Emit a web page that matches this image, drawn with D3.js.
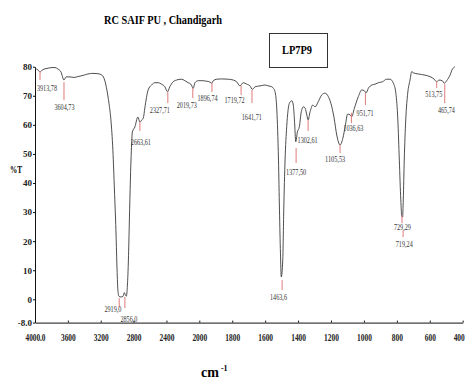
<!DOCTYPE html>
<html>
<head>
<meta charset="utf-8">
<script src="https://cdn.jsdelivr.net/npm/d3@7/dist/d3.min.js"></script>
<style>
  body { margin: 0; background: #fff; }
  svg { display: block; }
</style>
</head>
<body>
<svg id="ir-chart" width="468" height="381"></svg>
<script>
// spectrum (wavenumber cm-1, %T)
var waveNumbers = [4000, 3964, 3939, 3903, 3854, 3793, 3757, 3720, 3684, 3647,
  3623, 3574, 3526, 3477, 3416, 3356, 3295, 3234, 3185, 3149,
  3125, 3100, 3076, 3052, 3033, 3015, 3003, 2991, 2979, 2954,
  2930, 2912, 2900, 2888, 2875, 2863, 2851, 2839, 2827, 2815,
  2784, 2748, 2723, 2699, 2681, 2663, 2623, 2581, 2541, 2501,
  2460, 2419, 2387, 2359, 2319, 2278, 2217, 2176, 2136, 2103,
  2073, 2053, 2012, 1985, 1955, 1935, 1925, 1915, 1894, 1864,
  1824, 1793, 1773, 1753, 1733, 1712, 1692, 1678, 1661, 1631,
  1601, 1581, 1560, 1550, 1540, 1529, 1519, 1513, 1507, 1502,
  1493, 1487, 1479, 1469, 1453, 1438, 1429, 1422, 1414, 1404,
  1392, 1382, 1368, 1357, 1347, 1339, 1327, 1311, 1297, 1277,
  1256, 1236, 1216, 1195, 1181, 1165, 1145, 1128, 1114, 1099,
  1084, 1074, 1058, 1034, 1013, 997, 987, 973, 952, 932,
  912, 888, 861, 841, 821, 806, 794, 785, 776, 770,
  765, 761, 755, 746, 734, 720, 710, 700, 670, 629,
  599, 573, 558, 544, 524, 512, 497, 477, 463, 447]

var transmittance = [79.4, 78.9, 78.2, 79.0, 79.4, 79.7, 79.7, 79.2, 78.2, 75.4,
  76.5, 76.5, 76.3, 76.6, 77.0, 77.5, 77.7, 77.6, 77.1, 75.1,
  72.0, 67.5, 61.7, 51.3, 37.6, 23.8, 11.8, 3.2, 1.1, 0.8,
  1.0, 2.3, 1.5, 1.1, 4.9, 13.5, 27.3, 41.0, 51.3, 57.5,
  59.3, 62.7, 61.0, 61.7, 62.4, 65.8, 72.0, 73.7, 74.5, 74.5,
  74.0, 73.1, 71.4, 73.1, 74.8, 75.4, 75.7, 75.2, 74.5, 74.0,
  72.6, 74.5, 75.2, 75.2, 75.0, 74.7, 74.3, 75.2, 75.7, 75.8,
  75.7, 75.4, 74.8, 73.4, 74.5, 74.0, 73.4, 72.2, 73.1, 73.4,
  73.7, 73.4, 73.1, 72.6, 71.4, 65.1, 47.9, 30.7, 15.9, 7.7,
  13.5, 30.7, 47.9, 59.4, 67.4, 68.3, 66.8, 61.7, 54.2, 57.6,
  59.4, 64.0, 66.2, 65.7, 63.4, 61.7, 64.5, 66.8, 66.2, 68.0,
  70.3, 70.9, 69.7, 66.2, 62.3, 56.5, 53.1, 55.4, 59.4, 63.7,
  63.4, 62.8, 65.7, 69.7, 72.0, 71.7, 71.0, 72.6, 73.7, 74.0,
  74.5, 74.8, 75.7, 75.7, 74.3, 70.9, 61.7, 47.9, 34.2, 28.6,
  28.3, 34.2, 47.9, 61.7, 70.9, 75.4, 78.3, 77.9, 77.5, 77.1,
  76.6, 75.7, 74.8, 75.4, 75.2, 74.3, 75.2, 77.1, 79.1, 80.0]

var xTicks = [4000, 3600, 3200, 2800, 2400, 2000, 1800, 1600, 1400, 1200, 1000, 800, 600, 400]
var yTicks = [-8, 0, 10, 20, 30, 40, 50, 60, 70, 80]

// peak annotations: marker from t0 down to t1 at w, label centred at (lw, lt)
var peaks = [
  {label: '3913,78', w: 3939, t0: 78.5, t1: 75.4, lw: 3854, lt: 72.7},
  {label: '3604,73', w: 3647, t0: 74.7, t1: 68.5, lw: 3641, lt: 66.1},
  {label: '2919,0',  w: 2975, t0: 0.4,  t1: -2.7, lw: 3052, lt: -3.2},
  {label: '2856,0',  w: 2906, t0: 0.8,  t1: -3.0, lw: 2857, lt: -6.6},
  {label: '2663,61', w: 2723, t0: 61.0, t1: 57.9, lw: 2711, lt: 54.3},
  {label: '2327,71', w: 2383, t0: 71.3, t1: 67.5, lw: 2480, lt: 65.1},
  {label: '2019,73', w: 2079, t0: 72.7, t1: 69.2, lw: 2152, lt: 66.8},
  {label: '1896,74', w: 1923, t0: 74.4, t1: 71.3, lw: 1950, lt: 69.4},
  {label: '1719,72', w: 1746, t0: 73.4, t1: 70.3, lw: 1786, lt: 68.5},
  {label: '1641,71', w: 1680, t0: 72.0, t1: 67.5, lw: 1681, lt: 62.9},
  {label: '1463,6',  w: 1497, t0: 6.6,  t1: 3.2,  lw: 1519, lt: 0.8},
  {label: '1377,50', w: 1412, t0: 52.0, t1: 46.9, lw: 1412, lt: 44.0},
  {label: '1302,61', w: 1339, t0: 61.7, t1: 57.9, lw: 1342, lt: 54.8},
  {label: '1105,53', w: 1145, t0: 53.1, t1: 50.3, lw: 1175, lt: 48.3},
  {label: '1036,63', w: 1076, t0: 64.1, t1: 60.6, lw: 1064, lt: 58.9},
  {label: '951,71',  w: 991,  t0: 71.0, t1: 66.8, lw: 993,  lt: 64.2},
  {label: '729,29',  w: 769,  t0: 29.0, t1: 26.2, lw: 766,  lt: 25.0},
  {label: '719,24',  w: 762,  t0: 23.8, t1: 21.4, lw: 755,  lt: 19.0},
  {label: '513,75',  w: 558,  t0: 75.1, t1: 72.7, lw: 576,  lt: 70.5},
  {label: '465,74',  w: 509,  t0: 74.0, t1: 67.5, lw: 499,  lt: 65.1}
]

var serif = '"Liberation Serif", "Times New Roman", serif'

var svg = d3.select('#ir-chart')

// the instrument scale is compressed above 2000 cm-1
var x = d3.scaleLinear().domain([4000, 2000, 400]).range([35, 199.3, 462.7])
var y = d3.scaleLinear().domain([-8, 80]).range([322.6, 66.7])

// title + sample box
svg.append('text')
    .attr('x', 163).attr('y', 24)
    .attr('text-anchor', 'middle')
    .attr('font-family', serif).attr('font-weight', 'bold').attr('font-size', 11.5)
    .attr('textLength', 118).attr('lengthAdjust', 'spacingAndGlyphs')
    .text('RC SAIF PU , Chandigarh')

svg.append('rect')
    .attr('x', 269.5).attr('y', 33.5)
    .attr('width', 58).attr('height', 34)
    .attr('fill', 'none').attr('stroke', '#333').attr('stroke-width', 1)

svg.append('text')
    .attr('x', 297).attr('y', 54)
    .attr('text-anchor', 'middle')
    .attr('font-family', serif).attr('font-weight', 'bold').attr('font-size', 12)
    .attr('textLength', 30).attr('lengthAdjust', 'spacingAndGlyphs')
    .text('LP7P9')

// axes
var xAxis = svg.append('g')
    .attr('transform', 'translate(0,' + y(-8) + ')')
    .call(d3.axisBottom(x).tickValues(xTicks).tickSizeInner(-2).tickSizeOuter(0)
        .tickFormat(function(d){ return d === 4000 ? '4000.0' : d }))

var yAxis = svg.append('g')
    .attr('transform', 'translate(' + x(4000) + ',0)')
    .call(d3.axisLeft(y).tickValues(yTicks).tickSize(2).tickSizeOuter(0)
        .tickFormat(function(d){ return d === -8 ? '-8.0' : d }))

svg.selectAll('.domain, .tick line').attr('stroke', '#111')

xAxis.selectAll('text')
    .attr('y', 18).attr('dy', 0)
    .attr('fill', '#222')
    .attr('font-family', serif).attr('font-weight', 'bold').attr('font-size', 10)
    .attr('lengthAdjust', 'spacingAndGlyphs')
    .attr('textLength', function(d){ return d === 4000 ? 20 : String(d).length * 3.7 })

// last label sits against the right edge, pull it in a bit
xAxis.selectAll('.tick').filter(function(d){ return d === 400 }).select('text').attr('x', -4)

yAxis.selectAll('text')
    .attr('x', -3)
    .attr('fill', '#222')
    .attr('font-family', serif).attr('font-weight', 'bold').attr('font-size', 9)

svg.append('text')
    .attr('x', 16).attr('y', 173)
    .attr('text-anchor', 'middle')
    .attr('font-family', serif).attr('font-weight', 'bold').attr('font-size', 9.5)
    .attr('textLength', 12).attr('lengthAdjust', 'spacingAndGlyphs')
    .text('%T')

var unit = svg.append('text')
    .attr('x', 201).attr('y', 377)
    .attr('font-family', serif).attr('font-weight', 'bold').attr('font-size', 14)
unit.append('tspan').text('cm')
unit.append('tspan').attr('dx', 2).attr('dy', -6).attr('font-size', 8).text('-1')

// spectrum line
var pts = waveNumbers.map(function(w, i){ return [w, transmittance[i]] })

var line = d3.line()
    .x(function(d){ return x(d[0]) })
    .y(function(d){ return y(d[1]) })
    .curve(d3.curveMonotoneX)

svg.append('path')
    .datum(pts)
    .attr('d', line)
    .attr('fill', 'none')
    .attr('stroke', '#3a3a3a')
    .attr('stroke-width', 0.9)

// peak markers and labels
svg.selectAll('.peak-mark')
    .data(peaks)
    .enter().append('line')
    .attr('class', 'peak-mark')
    .attr('x1', function(d){ return x(d.w) }).attr('x2', function(d){ return x(d.w) })
    .attr('y1', function(d){ return y(d.t0) }).attr('y2', function(d){ return y(d.t1) })
    .attr('stroke', '#e07a7a').attr('stroke-width', 1)

svg.selectAll('.peak-label')
    .data(peaks)
    .enter().append('text')
    .attr('class', 'peak-label')
    .attr('x', function(d){ return x(d.lw) })
    .attr('y', function(d){ return y(d.lt) })
    .attr('dy', '0.35em')
    .attr('text-anchor', 'middle')
    .attr('fill', '#333')
    .attr('font-family', serif).attr('font-size', 9)
    .attr('lengthAdjust', 'spacingAndGlyphs')
    .attr('textLength', function(d){
        var n = d.label.replace(',', '').length
        return n * 3.1 + 1.5
    })
    .text(function(d){ return d.label })
</script>
</body>
</html>
